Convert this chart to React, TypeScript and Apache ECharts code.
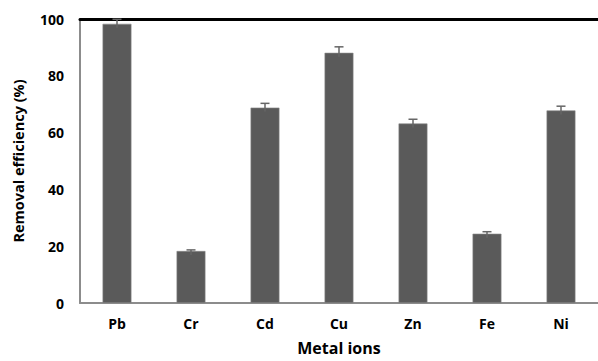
import React, { useEffect, useRef } from "react";
import * as echarts from "echarts";

const categories = ["Pb", "Cr", "Cd", "Cu", "Zn", "Fe", "Ni"];
const removal = [98.3, 18.3, 68.8, 88.1, 63.2, 24.4, 67.8];
const errors = [1.6, 0.4, 1.5, 2.1, 1.5, 0.7, 1.5];
const yTicks = [0, 20, 40, 60, 80, 100];

const FONT = "'Open Sans', 'Liberation Sans', sans-serif";

export default function App() {
  const ref = useRef<HTMLDivElement>(null);
  useEffect(() => {
    if (!ref.current) return;
    const chart = echarts.init(ref.current, null, { renderer: "svg" });
    const errData = categories.map((c, i) => [i, removal[i], errors[i]]);
    chart.setOption({
      animation: false,
      backgroundColor: "#ffffff",
      grid: { left: 80, top: 19, height: 286, width: 527 },
      xAxis: [
        {
          type: "category",
          data: categories,
          position: "bottom",
          axisLine: { lineStyle: { color: "#8c8c8c", width: 2 } },
          axisTick: { show: false },
          axisLabel: { color: "#000", fontFamily: FONT, fontWeight: "bold", fontSize: 14, margin: 13 },
          name: "Metal ions",
          nameLocation: "middle",
          nameGap: 37,
          nameTextStyle: { color: "#000", fontFamily: FONT, fontWeight: "bold", fontSize: 16 },
        },
        {
          type: "category",
          data: categories,
          position: "top",
          axisLine: { lineStyle: { color: "#000", width: 3 } },
          axisTick: { show: false },
          axisLabel: { show: false },
        },
      ],
      yAxis: {
        type: "value",
        min: yTicks[0],
        max: yTicks[yTicks.length - 1],
        interval: 20,
        axisLine: { show: true, lineStyle: { color: "#8c8c8c", width: 2 } },
        axisTick: { show: false },
        splitLine: { show: false },
        axisLabel: { color: "#000", fontFamily: FONT, fontWeight: "bold", fontSize: 14, margin: 16 },
        name: "Removal efficiency (%)",
        nameLocation: "middle",
        nameGap: 54,
        nameTextStyle: { color: "#000", fontFamily: FONT, fontWeight: "bold", fontSize: 14.5 },
      },
      series: [
        {
          type: "bar",
          data: removal,
          barWidth: "39%",
          itemStyle: { color: "#5a5a5a", borderColor: "#8a8a8a", borderWidth: 0.6 },
          z: 2,
        },
        {
          type: "custom",
          data: errData,
          z: 3,
          renderItem: (params: any, api: any) => {
            const i = api.value(0);
            const v = api.value(1);
            const e = api.value(2);
            const top = api.coord([i, v + e]);
            const mid = api.coord([i, v]);
            const x = top[0];
            const cap = 4.5;
            const style = { stroke: "#666666", lineWidth: 1.5 };
            return {
              type: "group",
              children: [
                { type: "line", shape: { x1: x, y1: mid[1] + 4, x2: x, y2: top[1] }, style },
                { type: "line", shape: { x1: x - cap, y1: top[1], x2: x + cap, y2: top[1] }, style },
              ],
            };
          },
        },
      ],
    });
    return () => chart.dispose();
  }, []);
  return <div ref={ref} style={{ width: 598, height: 361, position: "absolute", left: 0, top: 0 }} />;
}
